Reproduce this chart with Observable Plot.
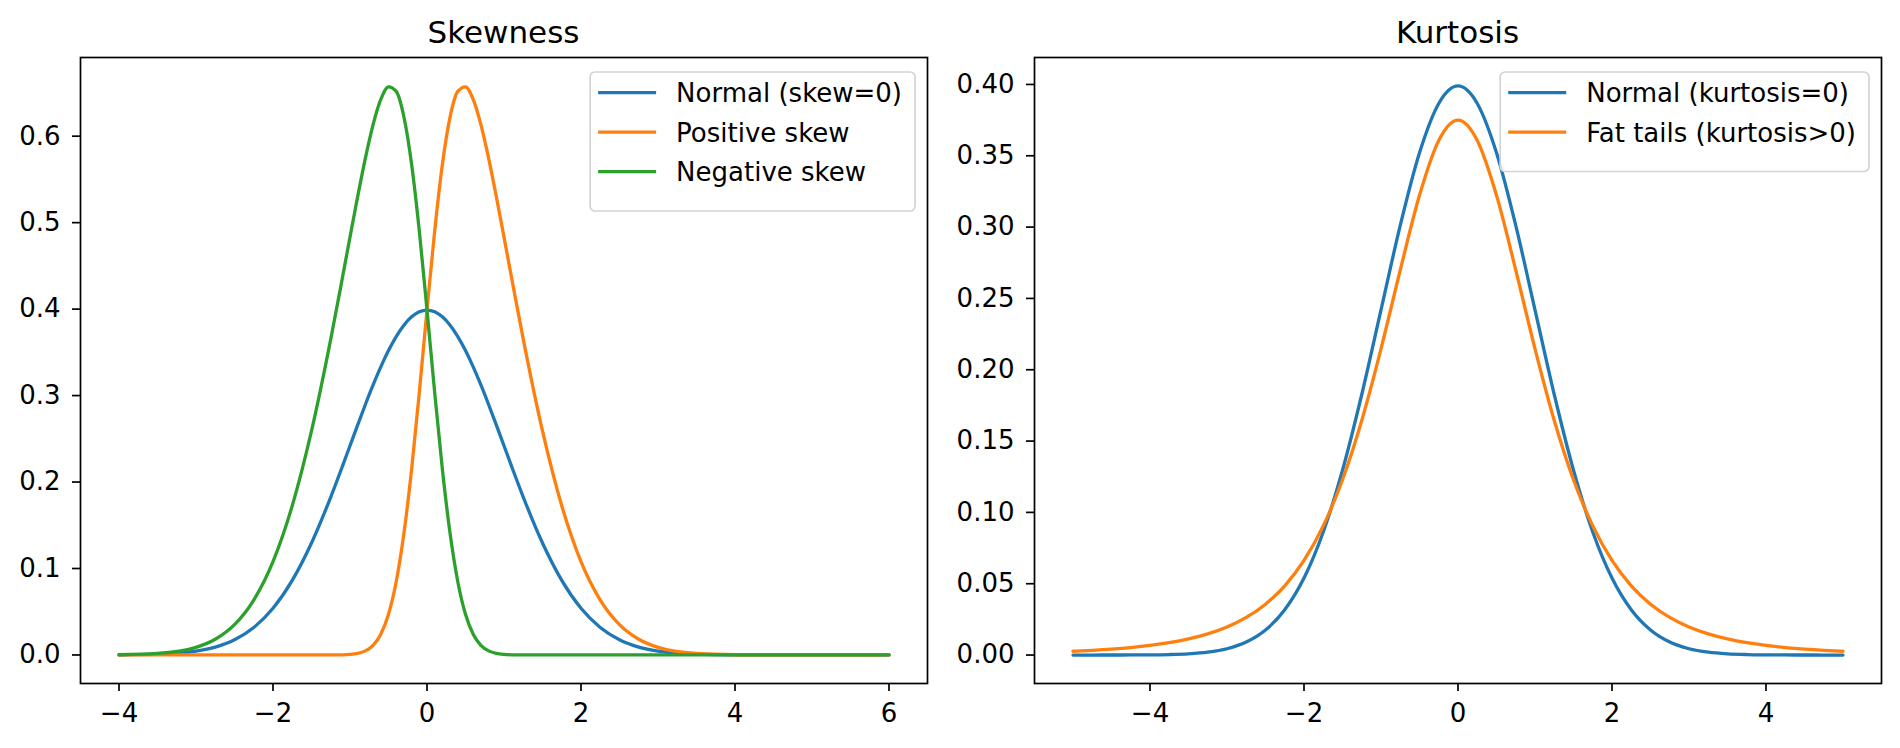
<!DOCTYPE html>
<html><head><meta charset="utf-8">
<script src="https://cdn.jsdelivr.net/npm/d3@7"></script>
<script src="https://cdn.jsdelivr.net/npm/@observablehq/plot@0.6"></script>
<style>
html,body{margin:0;padding:0;background:#fff;}
#wrap{position:relative;width:1900px;height:748px;font-family:"DejaVu Sans",sans-serif;}
.panel{position:absolute;top:0;}
</style></head><body><div id="wrap"></div>
<script>
// ---- Left panel: Skewness ----
const skewX = [-4, -3.5, -3, -2.75, -2.5, -2.25, -2, -1.75, -1.5, -1.25,
  -1.1, -1.0, -0.9, -0.8, -0.7, -0.6, -0.5, -0.4, -0.3, -0.2,
  -0.1, 0, 0.1, 0.2, 0.3, 0.4, 0.5, 0.6, 0.7, 0.8,
  0.9, 1.0, 1.1, 1.25, 1.5, 1.75, 2, 2.25, 2.5, 2.75,
  3, 3.5, 4, 4.5, 5, 5.5, 6];
const skewNormal = [0.00013, 0.00087, 0.00443, 0.00909, 0.01753, 0.03174, 0.05399, 0.08628, 0.12952, 0.18265,
  0.21785, 0.24197, 0.26609, 0.28969, 0.31225, 0.33322, 0.35207, 0.36827, 0.38139, 0.39104,
  0.39695, 0.39894, 0.39695, 0.39104, 0.38139, 0.36827, 0.35207, 0.33322, 0.31225, 0.28969,
  0.26609, 0.24197, 0.21785, 0.18265, 0.12952, 0.08628, 0.05399, 0.03174, 0.01753, 0.00909,
  0.00443, 0.00087, 0.00013, 0.00002, 0, 0, 0];
const skewPositive = [0, 0, 0, 0, 0, 0, 0, 0, 0, 0.00003,
  0.00021, 0.00065, 0.00185, 0.00475, 0.01115, 0.02395, 0.04704, 0.08475, 0.1404, 0.21449,
  0.30334, 0.39894, 0.49056, 0.56759, 0.6224, 0.65179, 0.6571, 0.6425, 0.61335, 0.57463,
  0.53033, 0.48329, 0.43549, 0.36527, 0.25904, 0.17256, 0.10798, 0.06348, 0.03506, 0.01818,
  0.00886, 0.00174, 0.00027, 0.00003, 0, 0, 0];
const skewNegative = [0.00027, 0.00174, 0.00886, 0.01818, 0.03506, 0.06348, 0.10798, 0.17256, 0.25904, 0.36527,
  0.43549, 0.48329, 0.53033, 0.57463, 0.61335, 0.6425, 0.6571, 0.65179, 0.6224, 0.56759,
  0.49056, 0.39894, 0.30334, 0.21449, 0.1404, 0.08475, 0.04704, 0.02395, 0.01115, 0.00475,
  0.00185, 0.00065, 0.00021, 0.00003, 0, 0, 0, 0, 0, 0,
  0, 0, 0, 0, 0, 0, 0];
const skewSeries = ["Normal (skew=0)", "Positive skew", "Negative skew"];
const skewTicksX = [-4, -2, 0, 2, 4, 6];
const skewTicksY = [0, 0.1, 0.2, 0.3, 0.4, 0.5, 0.6];

// ---- Right panel: Kurtosis ----
const kurtX = [-5, -4.75, -4.5, -4.25, -4, -3.75, -3.5, -3.25, -3, -2.75,
  -2.5, -2.25, -2, -1.75, -1.5, -1.25, -1, -0.75, -0.5, -0.25,
  0, 0.25, 0.5, 0.75, 1, 1.25, 1.5, 1.75, 2, 2.25,
  2.5, 2.75, 3, 3.25, 3.5, 3.75, 4, 4.25, 4.5, 4.75, 5];
const kurtNormal = [0, 0.00001, 0.00002, 0.00005, 0.00013, 0.00035, 0.00087, 0.00203, 0.00443, 0.00909,
  0.01753, 0.03174, 0.05399, 0.08628, 0.12952, 0.18265, 0.24197, 0.30114, 0.35207, 0.38667,
  0.39894, 0.38667, 0.35207, 0.30114, 0.24197, 0.18265, 0.12952, 0.08628, 0.05399, 0.03174,
  0.01753, 0.00909, 0.00443, 0.00203, 0.00087, 0.00035, 0.00013, 0.00005, 0.00002, 0.00001, 0];
const kurtFat = [0.00265, 0.0033, 0.00414, 0.00525, 0.00671, 0.00865, 0.01128, 0.01483, 0.01969, 0.02639,
  0.03567, 0.04853, 0.06629, 0.09053, 0.12288, 0.16444, 0.21466, 0.26989, 0.32226, 0.36074,
  0.375, 0.36074, 0.32226, 0.26989, 0.21466, 0.16444, 0.12288, 0.09053, 0.06629, 0.04853,
  0.03567, 0.02639, 0.01969, 0.01483, 0.01128, 0.00865, 0.00671, 0.00525, 0.00414, 0.0033, 0.00265];
const kurtSeries = ["Normal (kurtosis=0)", "Fat tails (kurtosis>0)"];
const kurtTicksX = [-4, -2, 0, 2, 4];
const kurtTicksY = [0, 0.05, 0.10, 0.15, 0.20, 0.25, 0.30, 0.35, 0.40];

const palette = ["#1f77b4", "#ff7f0e", "#2ca02c"];

function toRows(xs, seriesArrays, names) {
  const rows = [];
  seriesArrays.forEach((ys, k) => xs.forEach((x, i) => rows.push({x, y: ys[i], s: names[k]})));
  return rows;
}

function panel(cfg) {
  const W = 950, H = 748, mt = 57, mb = 65;
  const svg = Plot.plot({
    width: W, height: H,
    marginLeft: cfg.ml, marginRight: cfg.mr, marginTop: mt, marginBottom: mb,
    x: {domain: cfg.xDomain},
    y: {domain: cfg.yDomain},
    color: {domain: cfg.series, range: palette.slice(0, cfg.series.length)},
    style: {fontFamily: "DejaVu Sans", fontSize: "26px", color: "#000", background: "#fff", overflow: "visible"},
    marks: [
      Plot.line(cfg.rows, {x: "x", y: "y", z: "s", stroke: "s", strokeWidth: 3.3, curve: "monotone-x"}),
      Plot.frame({stroke: "#000", strokeWidth: 1.7}),
      Plot.axisX({ticks: cfg.xTicks, tickSize: 8, tickPadding: 12, strokeWidth: 1.7,
        tickFormat: d3.format("d"), fontSize: 26, label: null}),
      Plot.axisY({ticks: cfg.yTicks, tickSize: 8, tickPadding: 12, strokeWidth: 1.7,
        tickFormat: d3.format(cfg.yFmt), fontSize: 26, label: null})
    ]
  });
  const holder = document.createElement("div");
  holder.className = "panel";
  holder.style.left = cfg.left + "px";
  holder.appendChild(svg);
  document.getElementById("wrap").appendChild(holder);

  const s = d3.select(svg);
  const axL = cfg.ml, axR = W - cfg.mr;
  s.append("text").attr("x", (axL + axR) / 2).attr("y", 43)
    .attr("text-anchor", "middle").attr("font-size", 31).attr("fill", "#000")
    .text(cfg.title);

  // legend (upper right)
  const g = s.append("g").attr("text-anchor", "start");
  const box = g.append("rect");
  const rowY0 = 92.7, rowStep = 39.5;
  const texts = [];
  cfg.series.forEach((name, i) => {
    const y = rowY0 + i * rowStep;
    texts.push(g.append("text").attr("y", y + 9.5).attr("font-size", 26).attr("fill", "#000")
      .attr("text-anchor", "start").text(name));
  });
  const maxW = d3.max(texts, t => t.node().getComputedTextLength());
  const boxR = axR - 12, boxL = boxR - (maxW + 99);
  const textX = boxL + 86;
  texts.forEach(t => t.attr("x", textX));
  cfg.series.forEach((name, i) => {
    const y = rowY0 + i * rowStep;
    g.append("line").attr("x1", boxL + 8).attr("x2", boxL + 66).attr("y1", y).attr("y2", y)
      .attr("stroke", palette[i]).attr("stroke-width", 3.3);
  });
  box.attr("x", boxL).attr("y", 72).attr("width", boxR - boxL)
    .attr("height", 20 + cfg.series.length * rowStep + 0.5)
    .attr("rx", 5).attr("fill", "#fff").attr("fill-opacity", 0.8)
    .attr("stroke", "#d3d3d3").attr("stroke-width", 1.7);
}

panel({
  left: 0, ml: 80, mr: 23, xDomain: [-4.5, 6.5], yDomain: [-0.033, 0.691],
  xTicks: skewTicksX, yTicks: skewTicksY, yFmt: ".1f",
  series: skewSeries, title: "Skewness",
  rows: toRows(skewX, [skewNormal, skewPositive, skewNegative], skewSeries)
});
panel({
  left: 950, ml: 84, mr: 19, xDomain: [-5.5, 5.5], yDomain: [-0.01995, 0.41889],
  xTicks: kurtTicksX, yTicks: kurtTicksY, yFmt: ".2f",
  series: kurtSeries, title: "Kurtosis",
  rows: toRows(kurtX, [kurtNormal, kurtFat], kurtSeries)
});
</script></body></html>
